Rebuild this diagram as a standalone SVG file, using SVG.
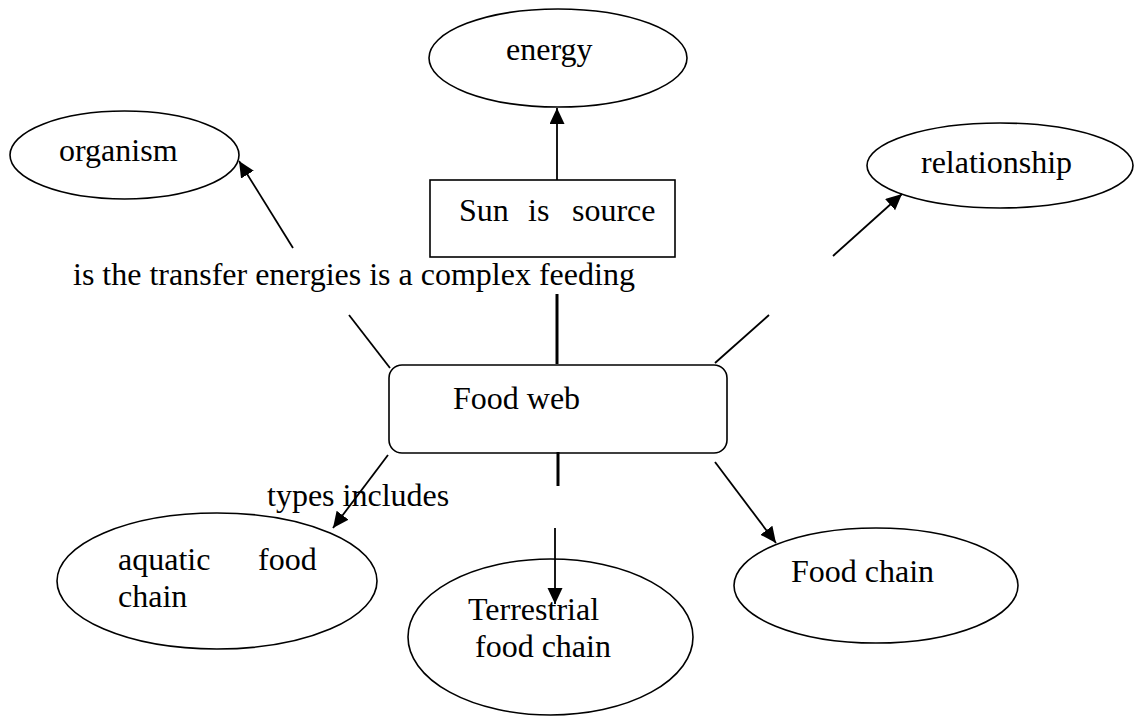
<svg xmlns="http://www.w3.org/2000/svg" width="1138" height="716" viewBox="0 0 1138 716">
  <style>
    .shape { fill: #ffffff; stroke: #000000; stroke-width: 1.6; }
    .label { font-family: "Liberation Serif", "Times New Roman", serif; font-size: 32px; fill: #000000; }
    .link { stroke: #000000; stroke-width: 1.8; fill: none; }
    .bar { stroke: #000000; stroke-width: 3; fill: none; }
  </style>
  <defs>
    <marker id="head" markerUnits="userSpaceOnUse" markerWidth="18" markerHeight="16" refX="16" refY="7.5" orient="auto">
      <path d="M0,0 L16,7.5 L0,15 z" fill="#000000"/>
    </marker>
  </defs>
  <rect x="0" y="0" width="1138" height="716" fill="#ffffff"/>

  <g id="node-energy">
    <ellipse class="shape" cx="558" cy="58" rx="129" ry="49"/>
    <text class="label" x="506" y="60">energy</text>
  </g>
  <g id="node-organism">
    <ellipse class="shape" cx="124.5" cy="155" rx="114.5" ry="44"/>
    <text class="label" x="59" y="161">organism</text>
  </g>
  <g id="node-relationship">
    <ellipse class="shape" cx="1000" cy="165.5" rx="133" ry="42.5"/>
    <text class="label" x="921" y="173">relationship</text>
  </g>
  <g id="node-sun">
    <rect class="shape" x="430" y="180" width="245" height="77"/>
    <text class="label" y="221"><tspan x="459">Sun</tspan><tspan x="528">is</tspan><tspan x="572">source</tspan></text>
  </g>
  <g id="node-foodweb">
    <rect class="shape" x="389" y="365" width="338" height="88" rx="13" ry="13"/>
    <text class="label" x="453" y="409">Food web</text>
  </g>
  <g id="node-aquatic">
    <ellipse class="shape" cx="217" cy="581" rx="160" ry="68"/>
    <text class="label" y="570"><tspan x="118">aquatic</tspan><tspan x="258">food</tspan></text>
    <text class="label" x="118" y="607">chain</text>
  </g>
  <g id="node-terrestrial">
    <ellipse class="shape" cx="550.5" cy="637" rx="142.5" ry="78"/>
    <text class="label" x="468" y="620">Terrestrial</text>
    <text class="label" x="475" y="657">food chain</text>
  </g>
  <g id="node-foodchain">
    <ellipse class="shape" cx="876" cy="585.5" rx="142" ry="57.5"/>
    <text class="label" x="791" y="582">Food chain</text>
  </g>

  <g id="connectors">
    <line class="link" x1="557" y1="180" x2="557" y2="108" marker-end="url(#head)"/>
    <line class="link" x1="293" y1="248" x2="239" y2="161" marker-end="url(#head)"/>
    <line class="link" x1="833" y1="256" x2="902" y2="194" marker-end="url(#head)"/>
    <line class="link" x1="349" y1="315" x2="390" y2="368"/>
    <line class="link" x1="715" y1="363" x2="769" y2="315"/>
    <line class="bar" x1="557" y1="294" x2="557" y2="364"/>
    <line class="bar" x1="558" y1="452" x2="558" y2="486"/>
    <line class="link" x1="388" y1="455" x2="333" y2="528" marker-end="url(#head)"/>
    <line class="link" x1="555" y1="528" x2="555" y2="604" marker-end="url(#head)"/>
    <line class="link" x1="715" y1="462" x2="776" y2="543" marker-end="url(#head)"/>
  </g>

  <g id="edge-labels">
    <text class="label" x="73" y="285">is the transfer energies is a complex feeding</text>
    <text class="label" x="267" y="506">types includes</text>
  </g>
</svg>
